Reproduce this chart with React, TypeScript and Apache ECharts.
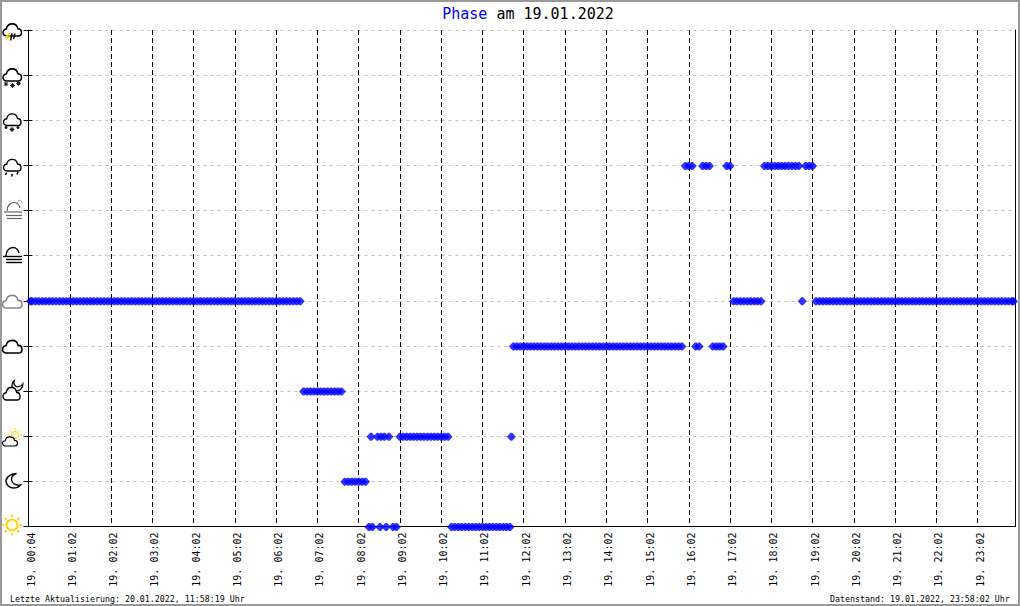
import React, { useEffect, useRef } from "react";
import * as echarts from "echarts";

const titleWord = "Phase";
const titleRest = " am 19.01.2022";
const updatedText = "Letzte Aktualisierung: 20.01.2022, 11:58:19 Uhr";
const dataStandText = "Datenstand: 19.01.2022, 23:58:02 Uhr";
const tickLabels = ["19. 00:04","19. 01:02","19. 02:02","19. 03:02","19. 04:02","19. 05:02","19. 06:02","19. 07:02","19. 08:02","19. 09:02","19. 10:02","19. 11:02","19. 12:02","19. 13:02","19. 14:02","19. 15:02","19. 16:02","19. 17:02","19. 18:02","19. 19:02","19. 20:02","19. 21:02","19. 22:02","19. 23:02"];

// sample positions (sample number along the day) per weather phase
const phaseSun = [99,100,102.2,104,106,107,123,124,125,126,127,128,129,130,131,132,133,134,135,136,137,138,139,140];
const phaseMoon = [92,93,94,95,96,97,98];
const phaseSunCloud = [99.6,101.5,102.5,103.5,104.8,108,109,110,111,112,113,114,115,116,117,118,119,120,121,122,140.4];
const phaseMoonCloud = [80,81,82,83,84,85,86,87,88,89,90,91];
const phaseCloud = [141,142,143,144,145,146,147,148,149,150,151,152,153,154,155,156,157,158,159,160,161,162,163,164,165,166,167,168,169,170,171,172,173,174,175,176,177,178,179,180,181,182,183,184,185,186,187,188,189,190,194,195,199,200,201,202];
const phaseOvercast = [0.6,1,2,3,4,5,6,7,8,9,10,11,12,13,14,15,16,17,18,19,20,21,22,23,24,25,26,27,28,29,30,31,32,33,34,35,36,37,38,39,40,41,42,43,44,45,46,47,48,49,50,51,52,53,54,55,56,57,58,59,60,61,62,63,64,65,66,67,68,69,70,71,72,73,74,75,76,77,78,79,205,206,207,208,209,210,211,212,213,225,229,230,231,232,233,234,235,236,237,238,239,240,241,242,243,244,245,246,247,248,249,250,251,252,253,254,255,256,257,258,259,260,261,262,263,264,265,266,267,268,269,270,271,272,273,274,275,276,277,278,279,280,281,282,283,284,285,286,286.4];
const phaseFog: number[] = [];
const phaseFogCloud: number[] = [];
const phaseRain = [191,192,193,196,197,198,203,204,214,215,216,217,218,219,220,221,222,223,224,226,227,228];
const phaseSnow: number[] = [];
const phaseHeavySnow: number[] = [];
const phaseStorm: number[] = [];
const phases = [phaseSun, phaseMoon, phaseSunCloud, phaseMoonCloud, phaseCloud, phaseOvercast, phaseFog, phaseFogCloud, phaseRain, phaseSnow, phaseHeavySnow, phaseStorm];

const PLOT_L = 28.5, PLOT_R = 1015.5, PLOT_T = 30, PLOT_B = 526.5;
const MONO = "'DejaVu Sans Mono', monospace";
const BLUE = "#0000ff";
const MARKER = "path://M3.2 0 L4.8 0 L8 3.5 L4.8 7 L3.2 7 L0 3.5 Z";

const CLOUD_D = "M4 13 C1.6 13 0 11.4 0 9.4 C0 7.4 1.6 5.8 3.6 5.8 C4.2 2.6 6.6 0.4 10 0.4 C13.2 0.4 15.4 2.4 16 5.4 C18.4 5.4 20 7.2 20 9.4 C20 11.6 18.4 13 16.4 13 Z";
const MOON_D = "M11 0.5 C6 0.5 0.5 3.5 0.5 8 C0.5 12 4 15 8 15 C11 15 13.5 13.8 15 12 C10 13 6 10 6 6.5 C6 4 8 1.5 11 0.5 Z";
const ARCH_D = "M0 9 C0 4 3 0.5 7 0.5 C10 0.5 12.5 3 13 6";
echarts.graphic.registerShape("wxCloud", echarts.graphic.extendPath(CLOUD_D, {}));
echarts.graphic.registerShape("wxMoon", echarts.graphic.extendPath(MOON_D, {}));
echarts.graphic.registerShape("wxArch", echarts.graphic.extendPath(ARCH_D, {}));

const stroke = (color: string, lineWidth = 1.5) => ({ fill: "none", stroke: color, lineWidth });
const cloud = (x: number, y: number, w: number, h: number, color = "#000", fill = "none") => ({
  type: "wxCloud", x, y, scaleX: w / 20, scaleY: h / 13,
  style: { fill, stroke: color, lineWidth: 1.6 },
});
const ln = (x1: number, y1: number, x2: number, y2: number, color = "#000", w = 1.5) => ({
  type: "line", shape: { x1, y1, x2, y2 }, style: { stroke: color, lineWidth: w },
});
const dot = (cx: number, cy: number, r: number, color = "#111") => ({
  type: "circle", shape: { cx, cy, r }, style: { fill: color },
});
const flake = (cx: number, cy: number, r: number) => [
  ln(cx - r, cy, cx + r, cy, "#222", 1), ln(cx, cy - r, cx, cy + r, "#222", 1),
  ln(cx - r * 0.7, cy - r * 0.7, cx + r * 0.7, cy + r * 0.7, "#222", 1), ln(cx - r * 0.7, cy + r * 0.7, cx + r * 0.7, cy - r * 0.7, "#222", 1),
  dot(cx, cy, r * 0.6, "#222"),
];
const sun = (cx: number, cy: number, r: number, inner: number, outer: number, w: number) => {
  const out: any[] = [{ type: "circle", shape: { cx, cy, r }, style: { fill: "#fffbe0", stroke: "#ffcc00", lineWidth: w } }];
  [[1, 0], [0.7, 0.7], [0, 1], [-0.7, 0.7], [-1, 0], [-0.7, -0.7], [0, -1], [0.7, -0.7]].forEach(([a, b]) => {
    out.push(ln(cx + a * inner, cy + b * inner, cx + a * outer, cy + b * outer, "#ffcc00", w));
  });
  return out;
};

const icons: any[] = [
  // sun
  ...sun(12, 525, 5.5, 7.5, 10.5, 1.6),
  // moon
  { type: "wxMoon", x: 5.5, y: 473, style: stroke("#111") },
  // sun + cloud
  ...sun(15, 435, 3.5, 5, 7, 1),
  cloud(2.5, 436.5, 15, 9.5, "#000", "#fff"),
  // moon + cloud
  { type: "wxMoon", x: 9, y: 378.5, scaleX: 0.75, scaleY: 0.75, rotation: 0.8, originX: 7, originY: 7, style: stroke("#111", 1.8) },
  cloud(3, 387, 17, 13, "#000", "#fff"),
  // cloud
  cloud(2.5, 340, 19.5, 13),
  // overcast
  cloud(2.5, 295, 19.5, 13, "#888"),
  // fog
  { type: "wxArch", x: 6, y: 247, style: stroke("#000", 1.4) },
  ln(3, 256.5, 22, 256.5, "#000", 1.4), ln(6, 259.5, 22, 259.5, "#000", 1.4), ln(6, 262.5, 22, 262.5, "#000", 1.4),
  // fog with cloud
  { type: "wxArch", x: 7, y: 202, style: stroke("#555", 1.2) },
  { type: "wxArch", x: 17, y: 200, scaleX: 0.4, scaleY: 0.5, style: stroke("#555", 1.2) },
  ln(4, 212, 22, 212, "#666", 1.2), ln(6, 215.5, 22, 215.5, "#666", 1.2), ln(7, 218.5, 22, 218.5, "#666", 1.2),
  // rain
  cloud(3.5, 159, 17.5, 12),
  ln(6.5, 172.5, 5.5, 175), ln(12.5, 174, 11.5, 176.5), ln(18, 172, 17, 174.5),
  // snow
  cloud(3.5, 113.5, 17.5, 12),
  dot(6, 127.5, 1.5), ...flake(12, 129.5, 2.5), dot(18, 127.5, 1.5),
  // heavy snow
  cloud(3, 68.5, 18.5, 12.5),
  ...flake(6, 84, 2.2), ...flake(12.5, 85.5, 2.5), ...flake(18.5, 83.5, 2.2),
  // thunderstorm
  cloud(3, 23.5, 18.5, 12.5),
  { type: "polygon", shape: { points: [[8.5, 33], [4.5, 37.5], [7.5, 37.5], [5.5, 42], [10.5, 35.5], [8, 35.5], [10, 33]] }, style: { fill: "#ffcc00" } },
  ln(12, 33.5, 10.5, 40.5, "#111", 1.5), ln(15, 33.5, 13.5, 39, "#111", 1.5),
];

const option: any = {
  animation: false,
  backgroundColor: "#fff",
  title: {
    text: `{a|${titleWord}}{b|${titleRest}}`,
    left: 523, top: 1, textAlign: "center",
    textStyle: { fontWeight: "normal", rich: {
      a: { color: BLUE, fontFamily: MONO, fontSize: 15, fontWeight: "normal" },
      b: { color: "#000", fontFamily: MONO, fontSize: 15, fontWeight: "normal" },
    } },
  },
  grid: { left: PLOT_L, right: 1020 - PLOT_R, top: PLOT_T, bottom: 606 - PLOT_B },
  xAxis: {
    type: "value", min: 0, max: 287, interval: 12,
    axisLine: { onZero: false, lineStyle: { color: "#000", width: 1 } },
    axisTick: { show: false },
    axisLabel: {
      rotate: 90, margin: 6, fontFamily: MONO, fontSize: 10, color: "#000", showMaxLabel: false,
      verticalAlign: "top", lineHeight: 5,
      formatter: (v: number) => tickLabels[v / 12] ?? "",
    },
    splitLine: { show: true, lineStyle: { color: "#000", width: 1, type: [5, 3] } },
  },
  yAxis: [
    {
      type: "value", min: 0, max: 11, interval: 1, position: "left",
      axisLine: { show: true, onZero: false, lineStyle: { color: "#000", width: 1 } },
      axisTick: { show: true, length: 5, lineStyle: { color: "#000", width: 1 } },
      axisLabel: { show: false },
      splitLine: { show: true, lineStyle: { color: "#c0c0c0", width: 1, type: [3, 4] } },
    },
    {
      type: "value", min: 0, max: 11, interval: 1, position: "left",
      axisLine: { show: false },
      axisTick: { show: true, inside: true, length: 4, lineStyle: { color: "#000", width: 1 } },
      axisLabel: { show: false }, splitLine: { show: false },
    },
    {
      type: "value", min: 0, max: 11, interval: 1, position: "right",
      axisLine: { show: true, onZero: false, lineStyle: { color: "#000", width: 1 } },
      axisTick: { show: false }, axisLabel: { show: false }, splitLine: { show: false },
    },
  ],
  series: [{
    type: "scatter", symbol: MARKER, symbolSize: [9, 8], symbolOffset: [0, 0.5], symbolKeepAspect: false, clip: false, z: 5,
    itemStyle: { color: BLUE },
    data: phases.flatMap((list, level) => list.map((pos) => [pos, level])),
  }],
  graphic: [
    ...icons,
    { type: "text", x: 10, y: 594.5, style: { text: updatedText, fontFamily: MONO, fontSize: 8.3, fill: "#000" } },
    { type: "text", x: 830, y: 594.5, style: { text: dataStandText, fontFamily: MONO, fontSize: 8.3, fill: "#000" } },
    { type: "rect", shape: { x: 1, y: 1, width: 1018, height: 604 }, style: { fill: "none", stroke: "#999", lineWidth: 2 }, silent: true },
  ],
};

export default function App() {
  const ref = useRef<HTMLDivElement>(null);
  useEffect(() => {
    document.body.style.margin = "0";
    const chart = echarts.init(ref.current!, undefined, { renderer: "svg" });
    chart.setOption(option);
    return () => chart.dispose();
  }, []);
  return <div ref={ref} style={{ position: "absolute", left: 0, top: 0, width: 1020, height: 606 }} />;
}
